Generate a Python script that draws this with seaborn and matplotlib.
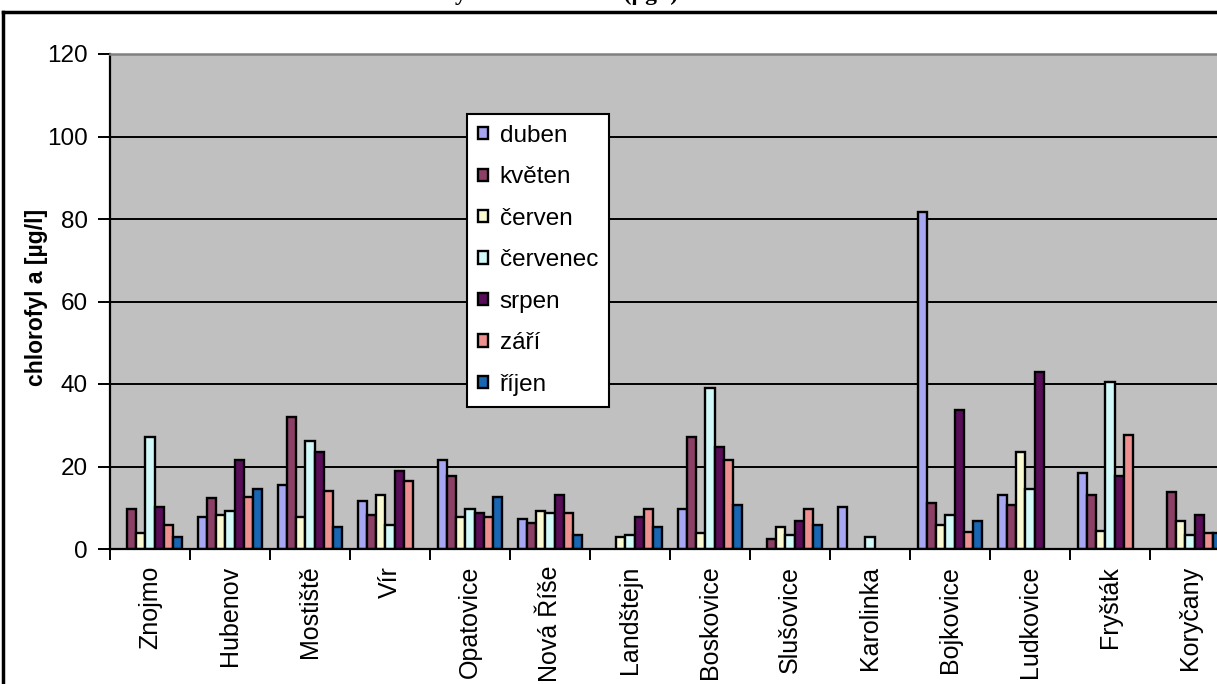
import numpy as np
import pandas as pd
import matplotlib
matplotlib.use("Agg")
import matplotlib.pyplot as plt
from matplotlib.lines import Line2D
import seaborn as sns

nan = np.nan

stations = ["Znojmo", "Hubenov", "Mostiště", "Vír", "Opatovice", "Nová Říše",
            "Landštejn", "Boskovice", "Slušovice", "Karolinka", "Bojkovice",
            "Ludkovice", "Fryšták", "Koryčany"]
months = ["duben", "květen", "červen", "červenec", "srpen", "září", "říjen"]

duben = [nan, 7.8, 15.5, 11.6, 21.5, 7.3, nan, 9.8, nan, 10.2, 81.6, 13.2, 18.5, nan]
kveten = [9.8, 12.3, 32.1, 8.3, 17.6, 6.3, nan, 27.2, 2.4, nan, 11.2, 10.7, 13.2, 13.7]
cerven = [3.8, 8.2, 7.8, 13.2, 7.8, 9.3, 2.9, 3.9, 5.4, nan, 5.8, 23.4, 4.3, 6.8]
cervenec = [27.2, 9.2, 26.3, 5.8, 9.8, 8.8, 3.4, 39.0, 3.4, 2.9, 8.3, 14.6, 40.5, 3.3]
srpen = [10.2, 21.5, 23.4, 19.0, 8.8, 13.2, 7.8, 24.8, 6.8, nan, 33.6, 42.9, 17.6, 8.3]
zari = [5.8, 12.7, 14.1, 16.6, 7.8, 8.8, 9.8, 21.5, 9.8, nan, 4.2, nan, 27.7, 3.9]
rijen = [2.9, 14.6, 5.4, nan, 12.7, 3.4, 5.4, 10.7, 5.8, nan, 6.8, nan, nan, 3.9]

colors = ["#9999FF", "#993366", "#FFFFCC", "#CCFFFF", "#660066", "#FF8080", "#0066CC"]

series = [duben, kveten, cerven, cervenec, srpen, zari, rijen]
rows = []
for m, vals in zip(months, series):
    for s, v in zip(stations, vals):
        rows.append({"nádrž": s, "měsíc": m, "chlorofyl": v})
df = pd.DataFrame(rows).dropna()

plt.rcParams["font.family"] = ["Liberation Sans", "DejaVu Sans"]

W, H = 1217, 684
fig = plt.figure(figsize=(W / 100, H / 100), dpi=100)
# plot area: x from 110 px, y from 54 px (top) to 549 px (bottom)
ax = fig.add_axes([110 / W, (H - 549) / H, 1120 / W, 495 / H])
ax.set_facecolor("#C0C0C0")

sns.barplot(data=df, x="nádrž", y="chlorofyl", hue="měsíc", order=stations,
            hue_order=months, palette=dict(zip(months, colors)), width=0.8,
            edgecolor="black", linewidth=1.7, errorbar=None, ax=ax)

ax.set_xlim(-0.5, len(stations) - 0.5)
ax.set_ylim(0, 120)
ax.set_yticks(range(0, 121, 20))
ax.set_axisbelow(True)
ax.yaxis.grid(True, color="black", linewidth=1.4)
ax.xaxis.grid(False)

ax.set_xticks(np.arange(-0.5, len(stations), 1))
ax.set_xticklabels([])
ax.set_xticks(np.arange(len(stations)), minor=True)
ax.set_xticklabels(stations, minor=True, rotation=90, fontsize=18,
                   ha="center", va="top")
ax.tick_params(axis="x", which="major", length=8, width=1.4, direction="out")
ax.tick_params(axis="x", which="minor", length=0, pad=12)
ax.tick_params(axis="y", length=9, width=1.4, direction="out", labelsize=17.5, pad=7)

ax.set_xlabel("")
ax.set_ylabel("")
for side in ["left", "bottom"]:
    ax.spines[side].set_color("black")
    ax.spines[side].set_linewidth(1.6)
for side in ["top", "right"]:
    ax.spines[side].set_color("#808080")
    ax.spines[side].set_linewidth(1.8)

fig.text(37 / W, 1 - 297 / H, "chlorofyl a [µg/l]", rotation=90, ha="center",
         va="center", fontsize=16.5, fontweight="bold")

handles, labels = ax.get_legend_handles_labels()
leg = ax.legend(handles, labels, loc="upper left",
                bbox_to_anchor=(467 / W, 1 - 114 / H), bbox_transform=fig.transFigure,
                fontsize=17.5, frameon=True, fancybox=False, framealpha=1,
                edgecolor="black", borderaxespad=0, handlelength=0.4,
                handleheight=0.4, handletextpad=0.5, labelspacing=0.8,
                borderpad=0.45)
leg.get_frame().set_linewidth(1.5)

# chart area border (cut by the picture edges)
fig.add_artist(Line2D([3 / W, 1.05], [1 - 12 / H, 1 - 12 / H], color="black",
                      linewidth=2.5, transform=fig.transFigure))
fig.add_artist(Line2D([3 / W, 3 / W], [1 - 12 / H, -0.05], color="black",
                      linewidth=2.5, transform=fig.transFigure))

# caption above the chart, cut off by the top edge (only descenders show)
fig.text(678 / W, 1.0, "Koncentrace chlorofylu a v nádržích (µg/l)",
         ha="right", va="baseline", fontsize=17, fontweight="bold",
         family=["Liberation Serif", "DejaVu Serif"])

fig.savefig("out.png", dpi=100)
plt.close(fig)
